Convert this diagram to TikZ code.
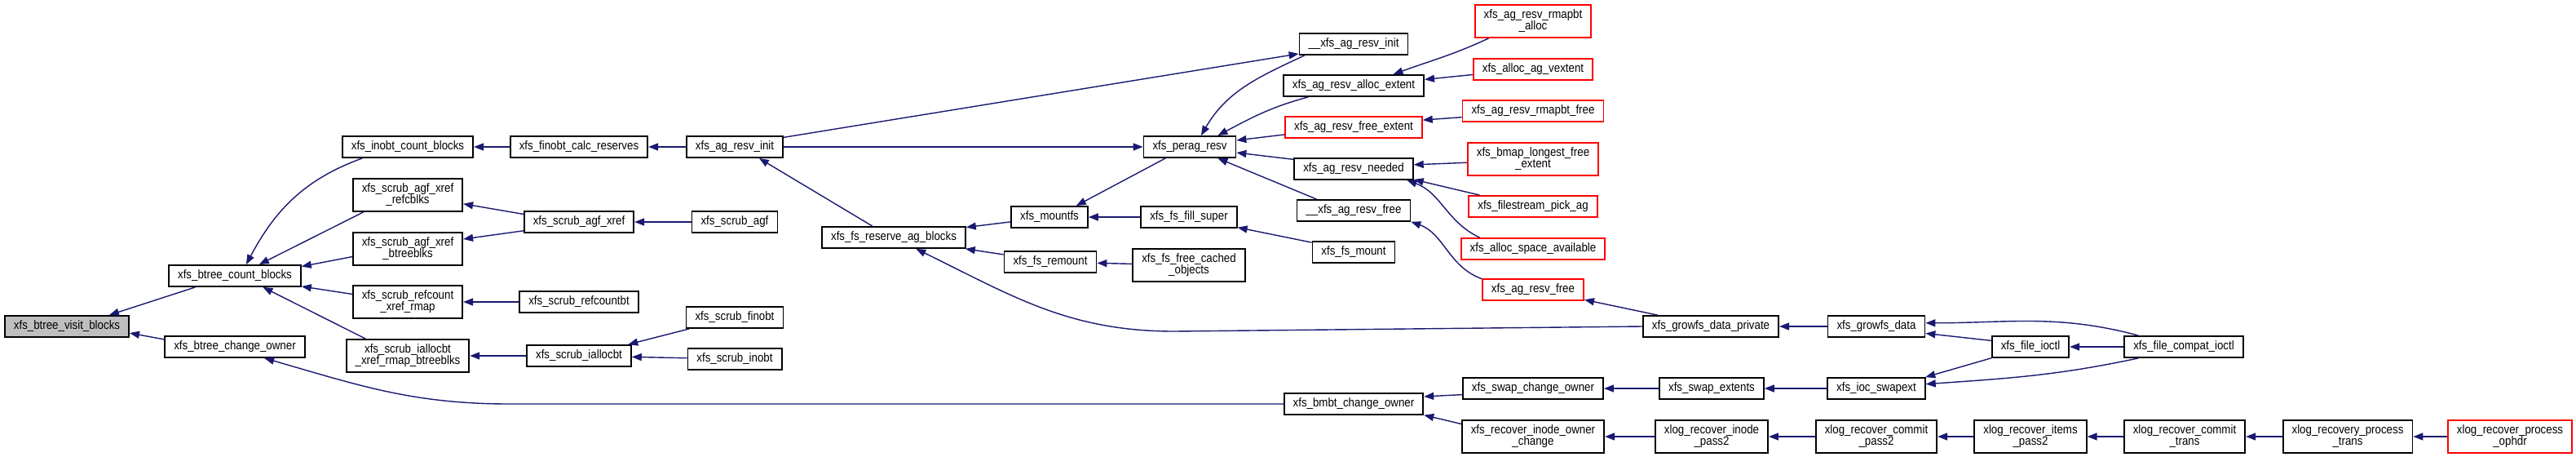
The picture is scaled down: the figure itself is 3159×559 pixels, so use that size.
\documentclass[tikz,border=0pt]{standalone}
\usepackage{fontspec}
\setmainfont[FakeStretch=0.887]{Liberation Sans}
\usepackage{xcolor}
\usepackage{tikz}
\usetikzlibrary{arrows.meta}
\definecolor{EdgeNavy}{HTML}{191970}
\definecolor{CallerRed}{HTML}{FF0000}
\definecolor{RootGray}{HTML}{BFBFBF}
\definecolor{BoxBlack}{HTML}{000000}
\tikzset{
  fnbox/.style={draw=BoxBlack,line width=0.9pt,fill=white,inner xsep=5.5pt,inner ysep=3pt,
    minimum height=13pt,align=center,font=\fontsize{7.5}{7}\selectfont},
  fnred/.style={fnbox,draw=CallerRed},
  fnroot/.style={fnbox,fill=RootGray},
  calledge/.style={EdgeNavy,line width=0.7pt,-{Triangle[length=6pt,width=4.5pt]}}
}

\begin{document}
\begin{tikzpicture}[x=0.5pt,y=-0.5pt]
  \useasboundingbox (0,0) rectangle (3159,559);
  % functions
  \node[fnroot] (visitblocks) at (82,400) {xfs\_btree\_visit\_blocks};
  \node[fnbox] (countblocks) at (288,338) {xfs\_btree\_count\_blocks};
  \node[fnbox] (changeowner) at (288,425) {xfs\_btree\_change\_owner};
  \node[fnbox] (inobtcount) at (500,180) {xfs\_inobt\_count\_blocks};
  \node[fnbox] (finobtcalc) at (710,180) {xfs\_finobt\_calc\_reserves};
  \node[fnbox] (agresvinit) at (901,180) {xfs\_ag\_resv\_init};
  \node[fnbox] (refcblks) at (500,239) {xfs\_scrub\_agf\_xref\\\_refcblks};
  \node[fnbox] (btreeblks) at (500,305) {xfs\_scrub\_agf\_xref\\\_btreeblks};
  \node[fnbox] (agfxref) at (710,272) {xfs\_scrub\_agf\_xref};
  \node[fnbox] (scrubagf) at (901,272) {xfs\_scrub\_agf};
  \node[fnbox] (refcountrmap) at (500,370) {xfs\_scrub\_refcount\\\_xref\_rmap};
  \node[fnbox] (refcountbt) at (710,370) {xfs\_scrub\_refcountbt};
  \node[fnbox] (iallocrmap) at (500,436) {xfs\_scrub\_iallocbt\\\_xref\_rmap\_btreeblks};
  \node[fnbox] (iallocbt) at (710,436) {xfs\_scrub\_iallocbt};
  \node[fnbox] (scrubfinobt) at (901,389) {xfs\_scrub\_finobt};
  \node[fnbox] (scrubinobt) at (901,440) {xfs\_scrub\_inobt};
  \node[fnbox] (reserveblocks) at (1096,291) {xfs\_fs\_reserve\_ag\_blocks};
  \node[fnbox] (mountfs) at (1287,266) {xfs\_mountfs};
  \node[fnbox] (fillsuper) at (1458,266) {xfs\_fs\_fill\_super};
  \node[fnbox] (remount) at (1288,321) {xfs\_fs\_remount};
  \node[fnbox] (freecached) at (1458,325) {xfs\_fs\_free\_cached\\\_objects};
  \node[fnbox] (peragresv) at (1459,180) {xfs\_perag\_resv};
  \node[fnbox] (uresvinit) at (1660,54) {\_\_xfs\_ag\_resv\_init};
  \node[fnbox] (allocextent) at (1660,105) {xfs\_ag\_resv\_alloc\_extent};
  \node[fnred] (freeextent) at (1660,156) {xfs\_ag\_resv\_free\_extent};
  \node[fnbox] (resvneeded) at (1660,207) {xfs\_ag\_resv\_needed};
  \node[fnbox] (uresvfree) at (1660,258) {\_\_xfs\_ag\_resv\_free};
  \node[fnbox] (fsmount) at (1660,309) {xfs\_fs\_mount};
  \node[fnred] (rmapbtalloc) at (1880,26) {xfs\_ag\_resv\_rmapbt\\\_alloc};
  \node[fnred] (vextent) at (1880,85) {xfs\_alloc\_ag\_vextent};
  \node[fnred] (rmapbtfree) at (1880,136) {xfs\_ag\_resv\_rmapbt\_free};
  \node[fnred] (longestfree) at (1880,195) {xfs\_bmap\_longest\_free\\\_extent};
  \node[fnred] (pickag) at (1880,253) {xfs\_filestream\_pick\_ag};
  \node[fnred] (spaceavail) at (1880,305) {xfs\_alloc\_space\_available};
  \node[fnred] (agresvfree) at (1880,355) {xfs\_ag\_resv\_free};
  \node[fnbox] (growfspriv) at (2098,400) {xfs\_growfs\_data\_private};
  \node[fnbox] (growfsdata) at (2301,400) {xfs\_growfs\_data};
  \node[fnbox] (fileioctl) at (2490,425) {xfs\_file\_ioctl};
  \node[fnbox] (compatioctl) at (2678,425) {xfs\_file\_compat\_ioctl};
  \node[fnbox] (iocswapext) at (2301,476) {xfs\_ioc\_swapext};
  \node[fnbox] (swapextents) at (2099,476) {xfs\_swap\_extents};
  \node[fnbox] (swapowner) at (1880,476) {xfs\_swap\_change\_owner};
  \node[fnbox] (bmbtowner) at (1660,495) {xfs\_bmbt\_change\_owner};
  \node[fnbox] (inodeowner) at (1880,535) {xfs\_recover\_inode\_owner\\\_change};
  \node[fnbox] (inodepass) at (2099,535) {xlog\_recover\_inode\\\_pass2};
  \node[fnbox] (commitpass) at (2301,535) {xlog\_recover\_commit\\\_pass2};
  \node[fnbox] (itemspass) at (2490,535) {xlog\_recover\_items\\\_pass2};
  \node[fnbox] (committrans) at (2679,535) {xlog\_recover\_commit\\\_trans};
  \node[fnbox] (processtrans) at (2879,535) {xlog\_recovery\_process\\\_trans};
  \node[fnred] (processophdr) at (3078,535) {xlog\_recover\_process\\\_ophdr};
  \coordinate (bendowner) at (625,495);
  \coordinate (bendreserve) at (1440,406);
  % calls
  \draw[calledge] (countblocks.196) -- (visitblocks.15);
  \draw[calledge] (changeowner.174) -- (visitblocks.-6);
  \draw[calledge] (inobtcount.194) to[out=200,in=62] (countblocks.45);
  \draw[calledge] (refcblks.201) -- (countblocks.25);
  \draw[calledge] (btreeblks.188) -- (countblocks.8);
  \draw[calledge] (refcountrmap.172) -- (countblocks.-9);
  \draw[calledge] (iallocrmap.158) -- (countblocks.-22);
  \draw[calledge] (bmbtowner.west) -- (bendowner) to[out=180,in=-16] (changeowner.-21);
  \draw[calledge] (finobtcalc) -- (inobtcount);
  \draw[calledge] (agresvinit) -- (finobtcalc);
  \draw[calledge] (agfxref.172) -- (refcblks.-9);
  \draw[calledge] (agfxref.189) -- (btreeblks.10);
  \draw[calledge] (scrubagf) -- (agfxref);
  \draw[calledge] (refcountbt) -- (refcountrmap);
  \draw[calledge] (iallocbt) -- (iallocrmap);
  \draw[calledge] (scrubfinobt.194) -- (iallocbt.13);
  \draw[calledge] (scrubinobt) -- (iallocbt);
  \draw[calledge] (reserveblocks.152) -- (agresvinit.-25);
  \draw[calledge] (agresvinit) -- (peragresv);
  \draw[calledge] (agresvinit.11) -- (uresvinit.190);
  \draw[calledge] (uresvinit.193) to[out=205,in=60] (peragresv.45);
  \draw[calledge] (allocextent.194) to[out=195,in=28] (peragresv.22);
  \draw[calledge] (freeextent.186) -- (peragresv.8);
  \draw[calledge] (resvneeded.171) -- (peragresv.-7);
  \draw[calledge] (uresvfree.163) -- (peragresv.-22);
  \draw[calledge] (peragresv.205) -- (mountfs.23);
  \draw[calledge] (mountfs.187) -- (reserveblocks.8);
  \draw[calledge] (fillsuper) -- (mountfs);
  \draw[calledge] (fsmount.167) -- (fillsuper.-12);
  \draw[calledge] (remount.171) -- (reserveblocks.-9);
  \draw[calledge] (freecached) -- (remount);
  \draw[calledge] (growfspriv.west) -- (bendreserve) to[out=180,in=-26] (reserveblocks.-27);
  \draw[calledge] (growfspriv.168) -- (agresvfree.-11);
  \draw[calledge] (agresvfree.168) to[out=160,in=-20] (uresvfree.-11);
  \draw[calledge] (rmapbtalloc.201) to[out=205,in=20] (allocextent.16);
  \draw[calledge] (vextent.185) -- (allocextent.5);
  \draw[calledge] (rmapbtfree.185) -- (freeextent.6);
  \draw[calledge] (longestfree.183) -- (resvneeded.4);
  \draw[calledge] (pickag.168) -- (resvneeded.-10);
  \draw[calledge] (spaceavail.168) to[out=155,in=-20] (resvneeded.-12);
  \draw[calledge] (growfsdata) -- (growfspriv);
  \draw[calledge] (fileioctl.171) -- (growfsdata.-8);
  \draw[calledge] (compatioctl.166) to[out=165,in=0] (growfsdata.4);
  \draw[calledge] (compatioctl) -- (fileioctl);
  \draw[calledge] (fileioctl.196) -- (iocswapext.13);
  \draw[calledge] (compatioctl.194) to[out=192,in=4] (iocswapext.5);
  \draw[calledge] (iocswapext) -- (swapextents);
  \draw[calledge] (swapextents) -- (swapowner);
  \draw[calledge] (swapowner.185) -- (bmbtowner.6);
  \draw[calledge] (inodeowner.170) -- (bmbtowner.-9);
  \draw[calledge] (inodepass) -- (inodeowner);
  \draw[calledge] (commitpass) -- (inodepass);
  \draw[calledge] (itemspass) -- (commitpass);
  \draw[calledge] (committrans) -- (itemspass);
  \draw[calledge] (processtrans) -- (committrans);
  \draw[calledge] (processophdr) -- (processtrans);
\end{tikzpicture}
\end{document}
